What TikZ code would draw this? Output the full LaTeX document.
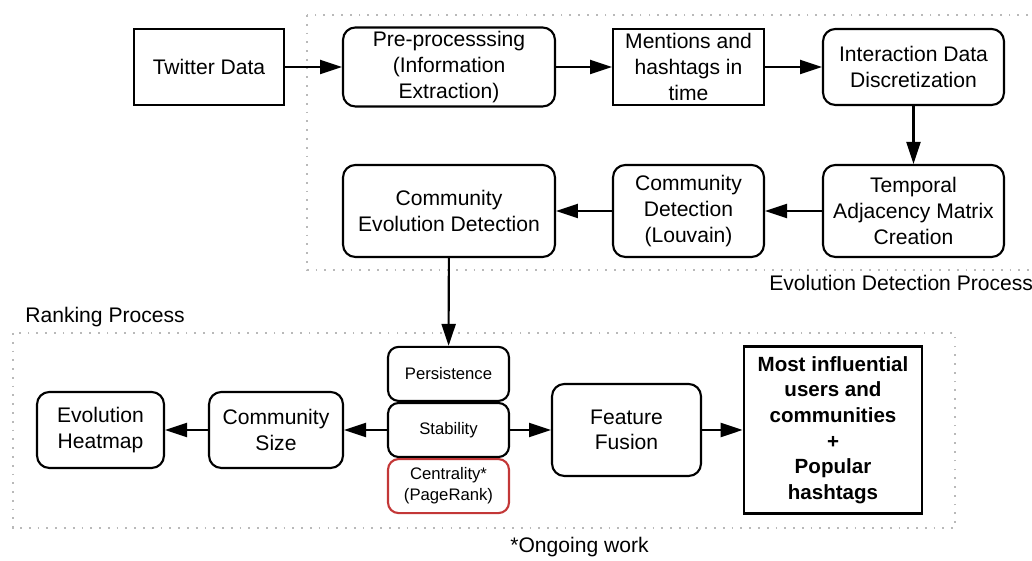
\documentclass[tikz,border=0pt]{standalone}
\usepackage{fontspec}
\setmainfont{Liberation Sans}
\usetikzlibrary{positioning,arrows.meta}
\definecolor{dotgray}{RGB}{185,185,185}
\definecolor{ongoingred}{RGB}{195,55,55}
\tikzset{
  flowbox/.style={draw=black, line width=1.2pt, align=center, inner sep=0pt,
    font=\fontsize{12}{14.6}\selectfont},
  roundbox/.style={flowbox, rounded corners=7pt},
  featbox/.style={roundbox, rounded corners=6pt, minimum width=2.42cm, minimum height=1.08cm,
    font=\fontsize{9.5}{12}\selectfont},
  groupbox/.style={draw=dotgray, line width=1pt, dash pattern=on 1pt off 4pt},
  flowarrow/.style={-{Triangle[length=12.5pt,width=8pt]}, line width=1.2pt},
  grouplabel/.style={anchor=west, inner sep=0pt, font=\fontsize{12}{14.6}\selectfont}
}
\begin{document}
\begin{tikzpicture}[x=0.02cm,y=0.02cm]
\useasboundingbox (0,0) rectangle (1032,561);
% dotted groups
\draw[groupbox] (307,546) rectangle (1045,291);
\draw[groupbox] (13,228) rectangle (955,33);
\node[grouplabel] (evollabel) at (769,278) {Evolution Detection Process};
\node[grouplabel] (ranklabel) at (25,244) {Ranking Process};
% top rows
\node[flowbox, minimum width=3cm, minimum height=1.52cm] (twitter) at (209,494) {Twitter Data};
\node[roundbox, minimum width=4.24cm, minimum height=1.58cm] (prep) at (449,494) {Pre-processsing\\(Information\\Extraction)};
\node[flowbox, minimum width=3.02cm, minimum height=1.52cm] (mentions) at (688.5,494) {Mentions and\\hashtags in\\time};
\node[roundbox, minimum width=3.62cm, minimum height=1.52cm] (interact) at (913.5,494) {Interaction Data\\Discretization};
\node[roundbox, minimum width=3.62cm, minimum height=1.84cm] (temporal) at (913.5,350) {Temporal\\Adjacency Matrix\\Creation};
\node[roundbox, minimum width=3.02cm, minimum height=1.84cm] (louvain) at (688.5,350) {Community\\Detection\\(Louvain)};
\node[roundbox, minimum width=4.24cm, minimum height=1.84cm] (evoldet) at (449,350) {Community\\Evolution Detection};
% ranking row
\node[featbox] (stability) at (448.5,131) {Stability};
\node[featbox, above=0pt of stability] (persistence) {Persistence};
\node[featbox, below=0pt of stability, draw=ongoingred] (centrality) {Centrality*\\(PageRank)};
\node[roundbox, minimum width=2.68cm, minimum height=1.52cm] (size) at (276,131) {Community\\Size};
\node[roundbox, minimum width=2.54cm, minimum height=1.52cm] (heatmap) at (100.5,131) {Evolution\\Heatmap};
\node[roundbox, minimum width=2.98cm, minimum height=1.84cm] (fusion) at (626.5,131) {Feature\\Fusion};
\node[flowbox, line width=1.6pt, minimum width=3.56cm, minimum height=3.34cm, font=\fontsize{11.7}{14.6}\selectfont\bfseries] (result) at (833,131) {Most influential\\users and\\communities\\+\\Popular\\hashtags};
\node[grouplabel] (ongoing) at (510,14) {*Ongoing work};
% connectors
\foreach \a/\b in {twitter/prep, prep/mentions, mentions/interact, interact/temporal, temporal/louvain, louvain/evoldet, evoldet/persistence, stability/size, size/heatmap, stability/fusion, fusion/result}
\draw[flowarrow] (\a) -- (\b);
\end{tikzpicture}
\end{document}
